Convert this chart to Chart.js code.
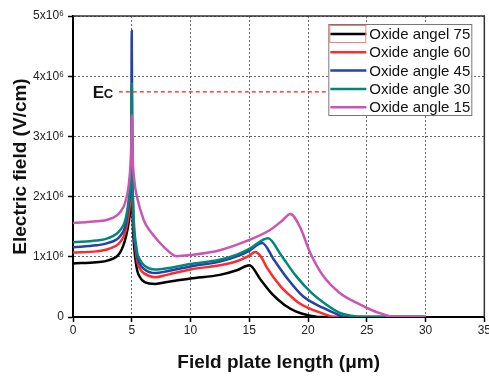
<!DOCTYPE html>
<html>
<head>
<meta charset="utf-8">
<script src="https://cdn.jsdelivr.net/npm/chart.js@4"></script>
<style>
  html, body { margin: 0; padding: 0; background: #fff; overflow: hidden; }
  #wrap { width: 492px; height: 381px; }
</style>
</head>
<body>
<div id="wrap"><canvas id="grafico"></canvas></div>
<script>
// field plate length (um) and electric field (x10^6 V/cm) per oxide angle
const x75 = [0, 2, 3, 4, 4.5, 4.8, 4.95, 5, 5.1, 5.4, 5.7, 6.1, 7, 8, 10, 12.5, 14, 15, 16, 17, 18, 19, 20, 21, 30];
const e75 = [0.89, 0.91, 0.94, 1.07, 1.33, 1.65, 1.95, 2.2, 1.5, 0.84, 0.66, 0.58, 0.55, 0.58, 0.64, 0.70, 0.78, 0.86, 0.61, 0.37, 0.20, 0.09, 0.03, 0, 0];

const x60 = [0, 2, 3, 4, 4.5, 4.8, 4.95, 5, 5.1, 5.4, 5.7, 6.1, 7, 8, 10, 12.5, 14, 15, 15.5, 16, 16.5, 17.7, 18.5, 19.1, 20, 20.8, 21.5, 22.3, 30];
const e60 = [1.07, 1.09, 1.13, 1.24, 1.44, 1.8, 2.15, 2.4, 1.7, 1.0, 0.80, 0.72, 0.66, 0.70, 0.79, 0.86, 0.93, 1.02, 1.08, 1.00, 0.82, 0.50, 0.35, 0.25, 0.15, 0.09, 0.04, 0, 0];

const x45 = [0, 2, 3, 4, 4.5, 4.8, 4.95, 5, 5.05, 5.1, 5.4, 5.7, 6.1, 7, 8, 10, 12.5, 14, 15, 16.1, 17.1, 18.2, 19.6, 21.3, 22.3, 23.1, 30];
const e45 = [1.16, 1.19, 1.23, 1.34, 1.55, 1.95, 2.5, 4.75, 2.6, 1.9, 1.08, 0.88, 0.79, 0.73, 0.76, 0.84, 0.92, 1.01, 1.10, 1.23, 0.95, 0.65, 0.34, 0.15, 0.06, 0, 0];

const x30 = [0, 2, 3, 4, 4.5, 4.8, 4.95, 5, 5.05, 5.1, 5.4, 5.7, 6.1, 7, 8, 10, 12.5, 14, 15, 16.6, 17.7, 18.9, 20.3, 21.6, 22.7, 23.7, 24.5, 30];
const e30 = [1.24, 1.27, 1.31, 1.44, 1.65, 2.05, 2.6, 3.87, 2.6, 2.0, 1.15, 0.95, 0.85, 0.79, 0.81, 0.88, 0.95, 1.04, 1.13, 1.31, 1.03, 0.70, 0.40, 0.20, 0.07, 0.02, 0, 0];

const x15 = [0, 2, 3, 4, 4.5, 4.8, 4.95, 5, 5.05, 5.2, 5.5, 6, 6.3, 7, 7.7, 8.8, 10, 12.5, 15, 16.8, 17.8, 18.5, 19.3, 20.2, 21.3, 22.7, 24.2, 25.6, 26.5, 27.2, 30];
const e15 = [1.56, 1.59, 1.62, 1.74, 1.94, 2.3, 2.8, 3.35, 2.8, 2.3, 1.95, 1.62, 1.50, 1.32, 1.17, 1.01, 1.03, 1.11, 1.28, 1.45, 1.60, 1.71, 1.50, 1.06, 0.68, 0.40, 0.23, 0.10, 0.04, 0, 0];

// critical field Ec
const ecLevel = 3.74;
const ecRange = [3.9, 24.8];

const labels = ["Oxide angel 75", "Oxide angle 60", "Oxide angle 45", "Oxide angle 30", "Oxide angle 15"];
const colores = ["#000000", "#ff2a2a", "#2443a8", "#00877a", "#cc55b4"];

const FONT = "'Liberation Sans', Arial, sans-serif";

const toPts = (xs, ys) => xs.map((x, i) => ({ x: x, y: ys[i] }));
const series = [toPts(x75, e75), toPts(x60, e60), toPts(x45, e45), toPts(x30, e30), toPts(x15, e15)];

const datasets = series.map((pts, i) => ({
    label: labels[i],
    data: pts,
    borderColor: colores[i],
    borderWidth: 2.5,
    pointRadius: 0,
    fill: false,
    cubicInterpolationMode: "monotone",
    order: 5 - i
}));

datasets.push({
    label: "Ec",
    data: [{ x: ecRange[0], y: ecLevel }, { x: ecRange[1], y: ecLevel }],
    borderColor: "#ff1a1a",
    borderWidth: 1.2,
    borderDash: [4, 3],
    pointRadius: 0,
    fill: false,
    order: 0
});

// frame, Ec label and boxed legend
const extras = {
    id: "extras",
    afterDraw(chart) {
        const { ctx, chartArea: a, scales } = chart;
        ctx.save();
        // top and right frame
        ctx.strokeStyle = "#333";
        ctx.lineWidth = 1.5;
        ctx.beginPath();
        ctx.moveTo(a.left, a.top);
        ctx.lineTo(a.right, a.top);
        ctx.lineTo(a.right, a.bottom);
        ctx.stroke();

        // Ec label
        const ey = scales.y.getPixelForValue(ecLevel);
        const ex = scales.x.getPixelForValue(ecRange[0]);
        ctx.fillStyle = "#111";
        ctx.textBaseline = "alphabetic";
        ctx.textAlign = "left";
        ctx.font = "bold 17px " + FONT;
        ctx.fillText("E", ex - 26, ey + 6);
        ctx.font = "bold 13px " + FONT;
        ctx.fillText("C", ex - 15, ey + 6);

        // legend
        const bw = 143, bh = 91;
        const bx = a.right - 13 - bw, by = a.top + 8;
        ctx.fillStyle = "#fff";
        ctx.fillRect(bx, by, bw, bh);
        ctx.strokeStyle = "#777";
        ctx.lineWidth = 1;
        ctx.strokeRect(bx + 0.5, by + 0.5, bw, bh);
        ctx.font = "15px " + FONT;
        ctx.textBaseline = "middle";
        for (let i = 0; i < labels.length; i++) {
            const ry = by + 10 + i * 18.3;
            ctx.strokeStyle = colores[i];
            ctx.lineWidth = 2.5;
            ctx.beginPath();
            ctx.moveTo(bx + 2, ry);
            ctx.lineTo(bx + 38, ry);
            ctx.stroke();
            ctx.fillStyle = "#111";
            ctx.fillText(labels[i], bx + 41, ry + 1);
        }
        // selection box around first legend sample
        ctx.strokeStyle = "#f08080";
        ctx.lineWidth = 1;
        ctx.strokeRect(bx + 1.5, by + 1.5, 36, 17);
        ctx.restore();
    }
};

const gridCommon = {
    color: "#666",
    lineWidth: 1,
    tickLength: 5,
    tickColor: "#000",
    tickWidth: 1.5,
    tickBorderDash: []
};

new Chart(document.getElementById("grafico").getContext("2d"), {
    type: "line",
    data: { datasets: datasets },
    plugins: [extras],
    options: {
        responsive: true,
        maintainAspectRatio: false,
        animation: false,
        layout: { padding: { top: 16, left: 0, right: 0, bottom: 0 } },
        plugins: {
            legend: { display: false },
            tooltip: { enabled: false }
        },
        scales: {
            x: {
                type: "linear",
                min: 0,
                max: 35,
                ticks: { stepSize: 5, padding: 1, color: "#222", font: { family: FONT, size: 12 } },
                grid: gridCommon,
                border: { color: "#000", width: 2, dash: [2, 2] },
                title: {
                    display: true,
                    text: "Field plate length (μm)",
                    color: "#111",
                    font: { family: FONT, size: 19, weight: "bold" },
                    padding: { top: 0, bottom: 7 }
                },
                afterFit: s => { s.height = 64; }
            },
            y: {
                min: 0,
                max: 5,
                ticks: {
                    stepSize: 1,
                    padding: 4,
                    color: "#222",
                    font: { family: FONT, size: 12 },
                    callback: v => v === 0 ? "0" : v + "x10⁶"
                },
                grid: gridCommon,
                border: { color: "#000", width: 2, dash: [2, 2] },
                title: {
                    display: true,
                    text: "Electric field (V/cm)",
                    color: "#111",
                    font: { family: FONT, size: 19, weight: "bold" },
                    padding: { top: 9, bottom: 0 }
                },
                afterFit: s => { s.width = 73; }
            }
        }
    }
});
</script>
</body>
</html>
